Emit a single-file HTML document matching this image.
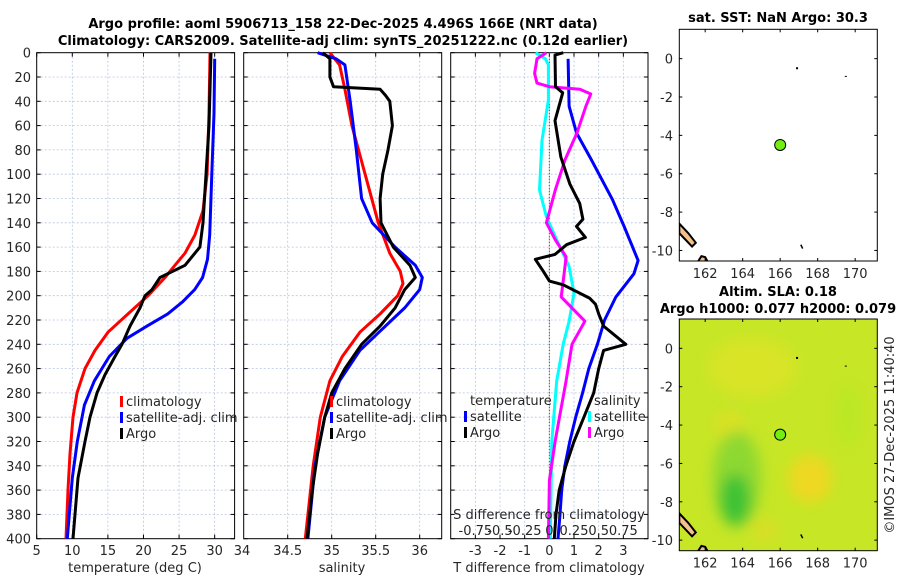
<!DOCTYPE html>
<html><head><meta charset="utf-8">
<style>
body{margin:0;background:#fff;}
svg{display:block;font-family:"DejaVu Sans","Liberation Sans",sans-serif;}
.tk{font-size:13px;fill:#262626;}
.tt{font-size:13px;font-weight:bold;fill:#000;}
.grid{stroke:#b8c4e0;stroke-width:0.8;stroke-dasharray:2,2;}
</style></head><body>
<svg id="c" width="900" height="580" viewBox="0 0 900 580">
<g id="g"></g>
</svg>
<script>
// ---- data ----
const depthTicks=[0,20,40,60,80,100,120,140,160,180,200,220,240,260,280,300,320,340,360,380,400];
const tempTicks=[5,10,15,20,25,30];
const salTicks=[34,34.5,35,35.5,36];
const tdiffTicks=[-3,-2,-1,0,1,2,3];
const sdiffTicks=["-0.75","-0.5","-0.25","0","0.25","0.5","0.75"];
const sdiffTickVals=[-0.75,-0.5,-0.25,0,0.25,0.5,0.75];

const tClimD=[0,50,100,130,150,165,175,185,200,215,230,245,260,280,300,330,360,400];
const tClimV=[29.34,29.2,28.93,28.36,27.23,25.83,24.42,23.02,20.63,17.82,15.01,13.19,11.78,10.66,10.1,9.68,9.4,9.12];
const tSatD=[5,50,100,150,170,185,195,205,215,225,235,250,270,290,320,350,400];
const tSatV=[30.0,29.9,29.6,29.3,29.0,28.3,27.2,25.5,23.4,20.5,17.7,15.2,13.1,11.7,10.7,10.0,9.3];
const tArgoD=[0,30,60,100,140,160,175,185,195,200,210,225,240,250,265,280,300,320,350,380,400];
const tArgoV=[29.48,29.34,29.2,28.78,28.36,27.93,25.83,22.32,21.2,20.21,19.51,18.11,16.98,16.0,14.59,13.47,12.49,11.78,10.8,10.38,10.1];

const sClimD=[0,10,30,60,100,140,165,180,190,200,215,230,250,270,300,340,400];
const sClimV=[34.98,35.09,35.15,35.23,35.38,35.53,35.66,35.78,35.81,35.75,35.55,35.32,35.12,34.98,34.87,34.79,34.70];
const sSatD=[0,5,10,40,80,120,140,160,175,185,195,210,225,245,270,300,340,400];
const sSatV=[34.84,35.05,35.15,35.21,35.28,35.34,35.46,35.72,35.95,36.03,36.0,35.83,35.61,35.32,35.09,34.92,34.81,34.73];
const sArgoD=[0,5,20,28,30,35,40,60,80,100,120,140,160,175,185,195,210,225,240,260,280,300,330,360,400];
const sArgoV=[34.90,34.98,34.98,35.02,35.55,35.61,35.66,35.69,35.64,35.58,35.55,35.56,35.70,35.89,35.95,35.83,35.72,35.55,35.34,35.15,35.0,34.92,34.84,34.78,34.72];

const dTsatD=[5,44,66,88,121,143,171,182,201,220,240,260,280,300,320,340,360,380,400];
const dTsatV=[0.76,0.8,1.1,1.7,2.56,3.03,3.6,3.43,2.7,2.24,1.95,1.6,1.35,1.07,0.83,0.63,0.5,0.43,0.35];
const dTargoD=[0,2,28,33,56,86,108,124,137,143,152,158,166,170,180,188,191,202,207,215,225,240,245,260,280,300,320,340,360,380,400];
const dTargoV=[0.56,0.23,0.25,0.54,0.23,0.47,0.83,1.23,1.36,1.1,1.46,0.7,0.23,-0.57,-0.24,0.0,0.56,1.63,1.87,2.0,2.2,3.1,2.2,2.0,1.8,1.4,1.0,0.67,0.4,0.27,0.2];
const dSsatD=[0,5,10,39,72,113,135,154,176,198,221,240,270,320,400];
const dSsatV=[-0.14,-0.04,-0.01,-0.01,-0.075,-0.1,-0.03,0.075,0.2,0.25,0.2,0.14,0.075,0.025,0.01];
const dSargoD=[0,5,17,25,28,30,34,44,66,88,113,140,154,168,182,201,221,240,270,319,352,400];
const dSargoV=[-0.03,-0.125,-0.15,-0.125,0,0.31,0.42,0.37,0.28,0.16,0.06,-0.03,0.06,0.17,0.15,0.12,0.36,0.23,0.17,0.06,0.0,-0.01];

const lonTicks=[162,164,166,168,170];
const latTicks=[0,-2,-4,-6,-8,-10];
const argoLon=166.0, argoLat=-4.5;

// ---- scales ----
const Y0=52.7,Y1=538.7;
const yD=d=>Y0+d*(Y1-Y0)/400;
const P1=[36.7,234.6],P2=[243.7,441.7],P3=[450.7,648];
const xT=v=>P1[0]+(v-5)*(P1[1]-P1[0])/(32.8-5);
const xS=v=>P2[0]+(v-34)*(P2[1]-P2[0])/(36.25-34);
const xTd=v=>P3[0]+(v+4)*(P3[1]-P3[0])/8;
const xSd=v=>xTd(v*4);
const g=document.getElementById('g');
const NS='http://www.w3.org/2000/svg';
function mk(tag,at,parent){const e=document.createElementNS(NS,tag);for(const k in at)e.setAttribute(k,at[k]);(parent||g).appendChild(e);return e;}
function txt(x,y,s,cls,anchor,parent){const e=mk('text',{x:x,y:y,class:cls,'text-anchor':anchor||'middle'},parent);e.textContent=s;return e;}

function panel(P,name,xt,xfun,labels){
  const grp=mk('g',{});
  
  
  depthTicks.forEach(d=>{if(d>0&&d<400)mk('line',{x1:P[0],x2:P[1],y1:yD(d),y2:yD(d),class:'grid'},grp);
    mk('line',{x1:P[0],x2:P[0]+4,y1:yD(d),y2:yD(d),stroke:'#000'},grp);
    mk('line',{x1:P[1]-4,x2:P[1],y1:yD(d),y2:yD(d),stroke:'#000'},grp);});
  xt.forEach((v,i)=>{const x=xfun(v);
    if(x>P[0]+1&&x<P[1]-1)mk('line',{x1:x,x2:x,y1:Y0,y2:Y1,class:'grid'},grp);
    mk('line',{x1:x,x2:x,y1:Y1,y2:Y1-4,stroke:'#000'},grp);
    mk('line',{x1:x,x2:x,y1:Y0,y2:Y0+4,stroke:'#000'},grp);
    const t=txt(x,555,labels?labels[i]:String(v),'tk','middle',grp);
    
    });
  mk('rect',{x:P[0],y:Y0,width:P[1]-P[0],height:Y1-Y0,fill:'none',stroke:'#000','stroke-width':1},grp);
  return grp;
}
function line(D,V,xf,col,name,parent){
  const pts=D.map((d,i)=>xf(V[i]).toFixed(1)+','+yD(d).toFixed(1)).join(' ');
  const p=mk('polyline',{points:pts,fill:'none',stroke:col,'stroke-width':3,'stroke-linejoin':'round'},parent);
  
  
}
function legend(x,y,col,label,parent){
  mk('rect',{x:x,y:y-10,width:3,height:11,fill:col},parent);
  const t=txt(x+6,y,label,'tk','start',parent);
  
  
}

// y tick labels
depthTicks.forEach(d=>{const t=txt(31,yD(d)+5,String(d),'tk','end');
  
  });

// panel 1
const g1=panel(P1,'temperature-panel',tempTicks,xT);
txt(242,555,'34','tk','middle');
line(tClimD,tClimV,xT,'#ff0000','temp-climatology-line',g1);
line(tSatD,tSatV,xT,'#0000ff','temp-satellite-line',g1);
line(tArgoD,tArgoV,xT,'#000','temp-argo-line',g1);
legend(120,406,'#ff0000','climatology',g1);legend(120,422,'#0000ff','satellite-adj. clim',g1);legend(120,438,'#000','Argo',g1);
let t=txt(135,572,'temperature (deg C)','tk');

// panel 2
const g2=panel(P2,'salinity-panel',salTicks.slice(1),xS);
line(sClimD,sClimV,xS,'#ff0000','sal-climatology-line',g2);
line(sSatD,sSatV,xS,'#0000ff','sal-satellite-line',g2);
line(sArgoD,sArgoV,xS,'#000','sal-argo-line',g2);
legend(330,406,'#ff0000','climatology',g2);legend(330,422,'#0000ff','satellite-adj. clim',g2);legend(330,438,'#000','Argo',g2);
t=txt(342,572,'salinity','tk');

// panel 3
const g3=panel(P3,'difference-panel',tdiffTicks,xTd);
mk('line',{x1:xTd(0),x2:xTd(0),y1:Y0,y2:Y1,stroke:'#555','stroke-dasharray':'1.5,1.5','stroke-width':1},g3);
line(dSsatD,dSsatV,xSd,'#00ffff','sdiff-satellite-line',g3);
line(dTsatD,dTsatV,xTd,'#0000ff','tdiff-satellite-line',g3);
line(dSargoD,dSargoV,xSd,'#ff00ff','sdiff-argo-line',g3);
line(dTargoD,dTargoV,xTd,'#000','tdiff-argo-line',g3);
txt(470,405,'temperature','tk','start',g3);
legend(464,421,'#0000ff','satellite',g3);legend(464,437,'#000','Argo',g3);
txt(594,405,'salinity','tk','start',g3);
legend(588,421,'#00ffff','satellite',g3);legend(588,437,'#ff00ff','Argo',g3);
txt(549,519,'S difference from climatology','tk','middle',g3);
sdiffTickVals.forEach((v,i)=>{const e=txt(xSd(v),535,sdiffTicks[i],'tk','middle',g3);
  
  });
t=txt(549,572,'T difference from climatology','tk');

// titles
t=txt(343,28,'Argo profile: aoml 5906713_158 22-Dec-2025 4.496S 166E (NRT data)','tt');
t=txt(343,45,'Climatology: CARS2009. Satellite-adj clim: synTS_20251222.nc (0.12d earlier)','tt');

// maps
function map(top,bot,name,fill){
  const L=679.3,R=877.3,lon0=160.62,lon1=171.18,lat0=1.53,lat1=-10.55;
  const mx=v=>L+(v-lon0)*(R-L)/(lon1-lon0);
  const my=v=>top+(v-lat0)*(bot-top)/(lat1-lat0);
  const grp=mk('g',{});
  
  
  const cid='clip'+name;
  const cp=mk('clipPath',{id:cid},grp);mk('rect',{x:L,y:top,width:R-L,height:bot-top},cp);
  const inner=mk('g',{'clip-path':'url(#'+cid+')'},grp);
  if(fill){
    mk('rect',{x:L,y:top,width:R-L,height:bot-top,fill:'#c6e626'},inner);
    const f=mk('filter',{id:'bl'},grp);mk('feGaussianBlur',{stdDeviation:7},f);
    const fg=mk('g',{filter:'url(#bl)'},inner);
    mk('ellipse',{cx:mx(164.5),cy:my(-1),rx:45,ry:30,fill:'#dde424',opacity:0.8},fg);
    mk('ellipse',{cx:mx(163.3),cy:my(-4),rx:16,ry:14,fill:'#e2de22',opacity:0.7},fg);
    mk('ellipse',{cx:mx(163.7),cy:my(-6.8),rx:24,ry:48,fill:'#8ed830'},fg);
    mk('ellipse',{cx:mx(163.6),cy:my(-7.9),rx:15,ry:26,fill:'#3dc236'},fg);
    mk('ellipse',{cx:mx(167.6),cy:my(-6.8),rx:22,ry:24,fill:'#eed822'},fg);
    mk('ellipse',{cx:mx(165.2),cy:my(-9.5),rx:14,ry:12,fill:'#e0dc22',opacity:0.7},fg);
    mk('ellipse',{cx:mx(169.6),cy:my(-3.5),rx:10,ry:30,fill:'#b2ea22',opacity:0.7},fg);
  }
  mk('path',{d:`M${L},${my(-8.6)} L${mx(161.1)},${my(-9.1)} L${mx(161.5)},${my(-9.6)} L${mx(161.3)},${my(-9.8)} L${L},${my(-9.1)} Z`,fill:'#f5c08c',stroke:'#000','stroke-width':2},inner);
  mk('path',{d:`M${mx(161.6)},${my(-10.6)} L${mx(161.8)},${my(-10.3)} L${mx(162.0)},${my(-10.35)} L${mx(162.2)},${my(-10.7)} Z`,fill:'#f5c08c',stroke:'#000','stroke-width':2},inner);
  mk('rect',{x:mx(166.9)-1,y:my(-0.5)-1,width:2,height:2,fill:'#000'},inner);
  mk('rect',{x:mx(169.5)-1,y:my(-0.9),width:2,height:1,fill:'#000'},inner);
  mk('line',{x1:mx(167.1),y1:my(-9.7),x2:mx(167.2),y2:my(-9.9),stroke:'#000','stroke-width':1.5},inner);
  const dot=mk('circle',{cx:mx(argoLon),cy:my(argoLat),r:5.5,fill:'#73ee14',stroke:'#000','stroke-width':1},grp);
  
  
  mk('rect',{x:L,y:top,width:R-L,height:bot-top,fill:'none',stroke:'#000'},grp);
  lonTicks.forEach(v=>{const x=mx(v);mk('line',{x1:x,x2:x,y1:bot,y2:bot-3,stroke:'#000'},grp);mk('line',{x1:x,x2:x,y1:top,y2:top+3,stroke:'#000'},grp);
    const e=txt(x,bot+17,String(v),'tk','middle',grp);});
  latTicks.forEach(v=>{const y=my(v);mk('line',{x1:L,x2:L+3,y1:y,y2:y,stroke:'#000'},grp);mk('line',{x1:R-3,x2:R,y1:y,y2:y,stroke:'#000'},grp);
    const e=txt(673,y+5,String(v),'tk','end',grp);});
}
map(29.3,261,'sst-map',false);
map(319,550.7,'sla-map',true);
t=txt(778,22,'sat. SST: NaN Argo: 30.3','tt');
t=txt(778,296,'Altim. SLA: 0.18','tt');
t=txt(778,313,'Argo h1000: 0.077 h2000: 0.079','tt');
t=txt(0,0,'©IMOS 27-Dec-2025 11:40:40','tk','middle');t.setAttribute('transform','translate(894,435) rotate(-90)');


</script>
</body></html>
